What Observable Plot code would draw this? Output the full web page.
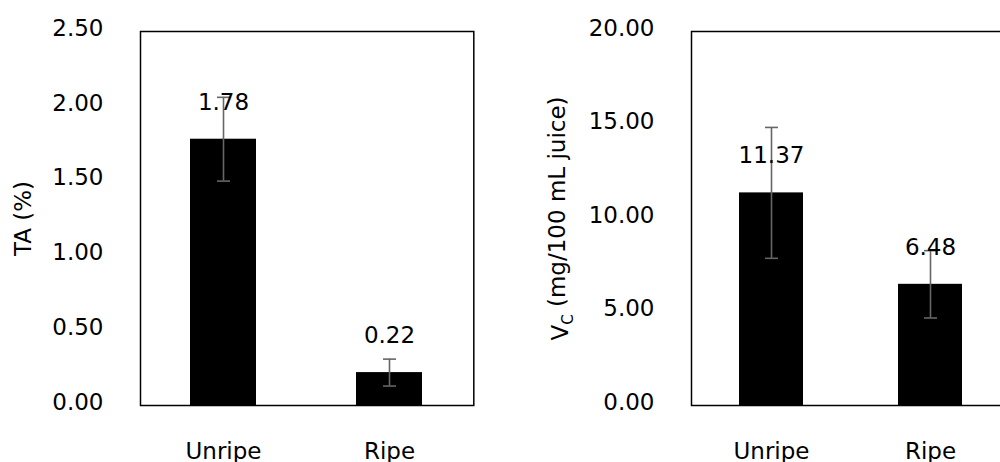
<!DOCTYPE html>
<html>
<head>
<meta charset="utf-8">
<script src="https://cdn.jsdelivr.net/npm/d3@7"></script>
<script src="https://cdn.jsdelivr.net/npm/@observablehq/plot@0.6"></script>
<style>
  html, body { margin: 0; padding: 0; background: #fff; overflow: hidden; }
  #wrap { position: relative; width: 1000px; height: 462px; overflow: hidden; }
  #left, #right { position: absolute; top: 0; height: 462px; }
  #left { left: 0; width: 500px; }
  #right { left: 500px; width: 509px; }
  svg { overflow: visible; max-width: none !important; }
</style>
</head>
<body>
<div id="wrap"><div id="left"></div><div id="right"></div></div>
<script>
const categories = ["Unripe", "Ripe"];
const taValues = [1.78, 0.22];
const taErrors = [0.28, 0.09];
const vcValues = [11.37, 6.48];
const vcErrors = [3.5, 1.8];
const taTicks = [0, 0.5, 1, 1.5, 2, 2.5];
const vcTicks = [0, 5, 10, 15, 20];
const taLabel = "TA (%)";
const vcLabel = "V_C (mg/100 mL juice)";

const FONT = "'DejaVu Sans', sans-serif";
const FS = 23;

// horizontal cap symbol for error bars
const capSymbol = {
  draw(ctx, size) {
    const w = Math.sqrt(size / Math.PI);
    ctx.moveTo(-w, 0);
    ctx.lineTo(w, 0);
  }
};

function panel({values, errors, ticks, domain, label, width, marginLeft, marginRight, labelDx}) {
  const data = categories.map((c, i) => ({cat: c, v: values[i], e: errors[i]}));
  return Plot.plot({
    width, height: 462,
    marginLeft, marginRight, marginTop: 31, marginBottom: 57,
    style: {fontFamily: FONT, fontSize: FS + "px", color: "#000", background: "transparent"},
    x: {domain: categories, paddingInner: 0.6, paddingOuter: 0.3, label: null},
    y: {domain, label: null},
    marks: [
      Plot.barY(data, {x: "cat", y: "v", fill: "#000"}),
      Plot.ruleX(data, {x: "cat", y1: d => d.v - d.e, y2: d => d.v + d.e, stroke: "#666", strokeWidth: 1.6}),
      Plot.dot(data, {x: "cat", y: d => d.v + d.e, symbol: capSymbol, r: 6.5, stroke: "#666", strokeWidth: 1.6, fill: "none"}),
      Plot.dot(data, {x: "cat", y: d => d.v - d.e, symbol: capSymbol, r: 6.5, stroke: "#666", strokeWidth: 1.6, fill: "none"}),
      Plot.text(data, {x: "cat", y: "v", text: d => d.v.toFixed(2), dy: -37, fontSize: FS, fill: "#000"}),
      Plot.frame({stroke: "#000", strokeWidth: 1.5}),
      Plot.axisY({ticks, tickFormat: d => d.toFixed(2), tickSize: 0, tickPadding: 37, dy: -3, label: null, fontSize: FS}),
      Plot.axisX({tickSize: 0, tickPadding: 37, label: null, fontSize: FS}),
      Plot.text([label], {text: d => d, frameAnchor: "left", textAnchor: "middle", dx: labelDx, rotate: -90, fontSize: FS, fill: "#000"})
    ]
  });
}

const left = panel({values: taValues, errors: taErrors, ticks: taTicks, domain: [0, 2.5], label: taLabel,
  width: 500, marginLeft: 140, marginRight: 26.7, labelDx: -117});
document.getElementById("left").appendChild(left);

const right = panel({values: vcValues, errors: vcErrors, ticks: vcTicks, domain: [0, 20], label: vcLabel,
  width: 509, marginLeft: 191, marginRight: 0, labelDx: -131});
document.getElementById("right").appendChild(right);

// subscript for V_C
d3.select(right).selectAll("text").each(function() {
  if (this.textContent === vcLabel) {
    const t = d3.select(this);
    t.text(null);
    t.append("tspan").text("V");
    t.append("tspan").attr("font-size", 15).attr("dy", "0.35em").text("C");
    t.append("tspan").attr("dy", "-0.35em").text("\u00a0(mg/100 mL juice)");
  }
});
</script>
</body>
</html>
